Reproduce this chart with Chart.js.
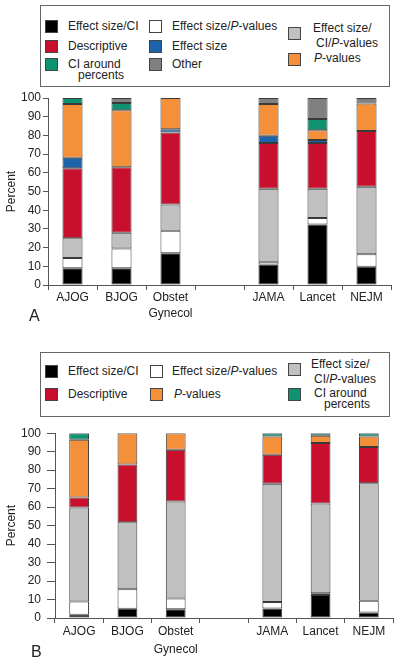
<!DOCTYPE html>
<html>
<head>
<meta charset="utf-8">
<script src="https://cdn.jsdelivr.net/npm/chart.js@4.4.1/dist/chart.umd.min.js"></script>
<style>
  body { margin: 0; background: #fff; font-family: "Liberation Sans", Arial, sans-serif; }
  #page { position: relative; width: 400px; height: 667px; overflow: hidden; }
  .legend { position: absolute; left: 40px; width: 350px; border: 1px solid #666; box-sizing: border-box; }
  .sw { position: absolute; width: 13px; height: 13px; box-sizing: border-box; border: 1px solid #444; }
  .tx { position: absolute; font-size: 12px; line-height: 14px; color: #222; white-space: nowrap; }
  .panel { position: absolute; font-size: 16px; color: #222; }
  .box { position: absolute; left: 0; width: 400px; }
</style>
</head>
<body>
<div id="page">
  <div class="legend" id="legA" style="top:5px;height:82px"></div>
  <div class="box" style="top:88px;height:240px"><canvas id="chartA"></canvas></div>
  <div class="panel" style="left:29px;top:307px">A</div>

  <div class="legend" id="legB" style="top:352px;height:65px"></div>
  <div class="box" style="top:420px;height:247px"><canvas id="chartB"></canvas></div>
  <div class="panel" style="left:31px;top:643px">B</div>
</div>
<script>
'use strict'

const journals = ['AJOG', 'BJOG', ['Obstet', 'Gynecol'], '', 'JAMA', 'Lancet', 'NEJM'];

const colors = {
    esCi: '#000000',
    esP: '#ffffff',
    esCiP: '#c0c0c0',
    descriptive: '#c8102e',
    effectSize: '#1b63aa',
    pValues: '#f5903a',
    ciPercents: '#0e9270',
    other: '#808080'
};

// panel A - segment sizes (percent), bottom to top
const aEsCi        = [9,    9,    17,   null, 11,   32.3, 9.8];
const aEsP         = [5.5,  10.5, 12,   null, 1.5,  3.5,  6.7];
const aEsCiP       = [10.5, 8.5,  14,   null, 39,   15.7, 36];
const aDescriptive = [37.5, 35,   38.5, null, 24.5, 24.5, 29.8];
const aEffectSize  = [5.5,  0,    1.8,  null, 3.8,  1.5,  0];
const aPValues     = [28.8, 30.4, 16.7, null, 17,   5.2,  14.7];
const aCiPercents  = [3.2,  3.9,  0,    null, 0,    6.1,  0];
const aOther       = [0,    2.7,  0,    null, 3.2,  11.2, 3];

// panel B
const bEsCi        = [1.8,  5,    4.8,  null, 5.2,  12.5, 3];
const bEsP         = [7.1,  10.5, 5.7,  null, 3.4,  0.9,  6.3];
const bEsCiP       = [50.9, 36.3, 52.5, null, 64.1, 48.6, 63.6];
const bDescriptive = [5.4,  31.2, 28,   null, 15.7, 32.7, 19.6];
const bPValues     = [31.3, 17,   9,    null, 9.8,  3.9,  5.7];
const bCiPercents  = [3.5,  0,    0,    null, 1.8,  1.4,  1.8];

const yTicks = [0, 10, 20, 30, 40, 50, 60, 70, 80, 90, 100];

const font = '"Liberation Sans", Arial, sans-serif';

function ds(label, data, color) {
    return {
        label: label,
        data: data,
        backgroundColor: color,
        borderColor: '#3a3a3a',
        // no outline for empty segments
        borderWidth: ctx => (ctx.raw ? 1 : 0),
        borderSkipped: false,
        inflateAmount: 0,
        barPercentage: 0.41,
        categoryPercentage: 1
    };
}

function makeChart(id, datasets, lay) {
    return new Chart(document.getElementById(id), {
        type: 'bar',
        data: { labels: journals, datasets: datasets },
        options: {
            responsive: true,
            maintainAspectRatio: false,
            animation: false,
            layout: { padding: { left: 0, right: lay.right, top: lay.top, bottom: 0 } },
            plugins: { legend: { display: false }, tooltip: { enabled: false } },
            scales: {
                x: {
                    stacked: true,
                    grid: { display: true, drawOnChartArea: false, offset: true, tickLength: 5, color: '#555' },
                    border: { display: true, color: '#555' },
                    ticks: {
                        color: '#222', padding: 0, maxRotation: 0, autoSkip: false,
                        font: { family: font, size: 12, lineHeight: lay.lineHeight }
                    },
                    afterFit: s => { s.height = lay.xHeight; }
                },
                y: {
                    stacked: true,
                    min: 0,
                    max: 100,
                    afterBuildTicks: s => { s.ticks = yTicks.map(v => ({ value: v })); },
                    grid: { display: true, drawOnChartArea: false, tickLength: lay.yTick, color: '#555' },
                    border: { display: true, color: '#555' },
                    ticks: { color: '#222', padding: lay.yPad, font: { family: font, size: 12 } },
                    title: {
                        display: true, text: 'Percent', color: '#222',
                        padding: { top: 4, bottom: 0 },
                        font: { family: font, size: 12 }
                    },
                    afterFit: s => { s.width = lay.yWidth; }
                }
            }
        }
    });
}

makeChart('chartA', [
    ds('Effect size/CI', aEsCi, colors.esCi),
    ds('Effect size/P-values', aEsP, colors.esP),
    ds('Effect size/CI/P-values', aEsCiP, colors.esCiP),
    ds('Descriptive', aDescriptive, colors.descriptive),
    ds('Effect size', aEffectSize, colors.effectSize),
    ds('P-values', aPValues, colors.pValues),
    ds('CI around percents', aCiPercents, colors.ciPercents),
    ds('Other', aOther, colors.other)
], { right: 9, top: 10, xHeight: 43, yWidth: 48, yTick: 5, yPad: 2, lineHeight: 1.3 });

makeChart('chartB', [
    ds('Effect size/CI', bEsCi, colors.esCi),
    ds('Effect size/P-values', bEsP, colors.esP),
    ds('Effect size/CI/P-values', bEsCiP, colors.esCiP),
    ds('Descriptive', bDescriptive, colors.descriptive),
    ds('P-values', bPValues, colors.pValues),
    ds('CI around percents', bCiPercents, colors.ciPercents)
], { right: 7, top: 12, xHeight: 49, yWidth: 55, yTick: 8, yPad: 6, lineHeight: 1.5 });

// legend entries: swatch position and text lines [html, x, y], relative to the box
function addLegend(boxId, items) {
    const box = document.getElementById(boxId);
    items.forEach(it => {
        const sw = document.createElement('div');
        sw.className = 'sw';
        sw.style.left = it.sx + 'px';
        sw.style.top = it.sy + 'px';
        sw.style.background = it.color;
        box.appendChild(sw);
        it.lines.forEach(l => {
            const t = document.createElement('div');
            t.className = 'tx';
            t.style.left = l[1] + 'px';
            t.style.top = l[2] + 'px';
            t.innerHTML = l[0];
            box.appendChild(t);
        });
    });
}

const P = '<i>P</i>-values';

addLegend('legA', [
    { color: colors.esCi, sx: 4, sy: 14, lines: [['Effect size/CI', 27, 13]] },
    { color: colors.descriptive, sx: 4, sy: 34, lines: [['Descriptive', 27, 33]] },
    { color: colors.ciPercents, sx: 4, sy: 52, lines: [['CI around', 27, 51], ['percents', 37, 62]] },
    { color: colors.esP, sx: 108, sy: 14, lines: [['Effect size/' + P, 131, 13]] },
    { color: colors.effectSize, sx: 108, sy: 34, lines: [['Effect size', 131, 33]] },
    { color: colors.other, sx: 108, sy: 52, lines: [['Other', 131, 51]] },
    { color: colors.esCiP, sx: 247, sy: 21, lines: [['Effect size/', 272, 15], ['CI/' + P, 275, 30]] },
    { color: colors.pValues, sx: 247, sy: 47, lines: [[P, 273, 45]] }
]);

addLegend('legB', [
    { color: colors.esCi, sx: 4, sy: 12, lines: [['Effect size/CI', 27, 11]] },
    { color: colors.descriptive, sx: 4, sy: 35, lines: [['Descriptive', 27, 34]] },
    { color: colors.esP, sx: 109, sy: 12, lines: [['Effect size/' + P, 131, 11]] },
    { color: colors.pValues, sx: 109, sy: 35, lines: [[P, 133, 34]] },
    { color: colors.esCiP, sx: 247, sy: 10, lines: [['Effect size/', 270, 4], ['CI/' + P, 273, 19]] },
    { color: colors.ciPercents, sx: 247, sy: 35, lines: [['CI around', 273, 33], ['percents', 283, 44]] }
]);
</script>
</body>
</html>
